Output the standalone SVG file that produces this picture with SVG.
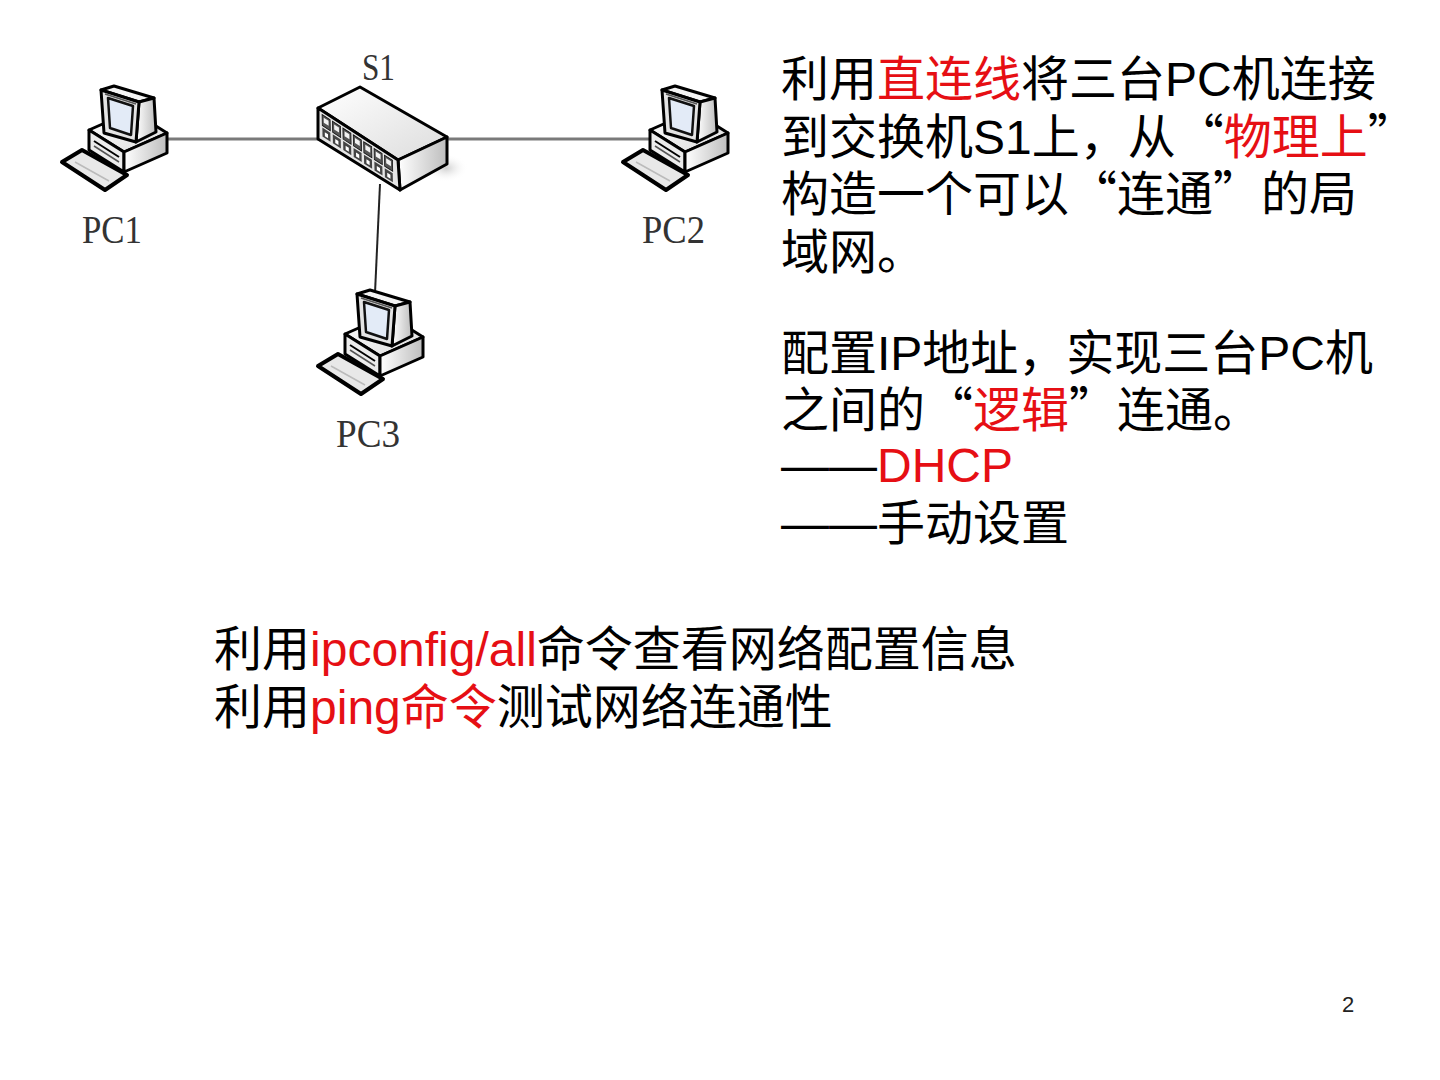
<svg xmlns="http://www.w3.org/2000/svg" xmlns:xlink="http://www.w3.org/1999/xlink" width="1440" height="1080" viewBox="0 0 1440 1080">
<style>
.t{font-family:"Liberation Sans","Noto Sans CJK SC",sans-serif;font-size:48px;fill:#000}
.r{fill:#e60f14}
.q{font-family:"Noto Sans CJK SC",sans-serif}
.lbl{font-family:"Liberation Serif","Times New Roman",serif;fill:#333}
.ol{stroke:#000;stroke-width:3;stroke-linejoin:round}
.wire{stroke:#7a7a7a;stroke-width:3;fill:none}
.wire2{stroke:#222;stroke-width:2;fill:none}
</style>
<defs>
<linearGradient id="side" x1="0" y1="0" x2="1" y2="0">
<stop offset="0" stop-color="#ffffff"/><stop offset="1" stop-color="#bdbdbd"/>
</linearGradient>
<linearGradient id="topg" x1="0" y1="0" x2="1" y2="1">
<stop offset="0" stop-color="#ffffff"/><stop offset="1" stop-color="#dcdcdc"/>
</linearGradient>
<radialGradient id="shadow"><stop offset="0" stop-color="#cfcfcf"/><stop offset="1" stop-color="#ffffff" stop-opacity="0"/></radialGradient>
<g id="pc">
<polygon class="ol" points="28,46 71,27 106,49 63,68" fill="url(#topg)"/>
<polygon class="ol" points="28,46 63,68 63,88 28,66" fill="#ececec"/>
<polygon class="ol" points="63,68 106,49 106,69 63,88" fill="url(#side)"/>
<line x1="33" y1="57" x2="58" y2="73" stroke="#000" stroke-width="2"/>
<line x1="33" y1="62" x2="58" y2="78" stroke="#555" stroke-width="1.5"/>
<polygon class="ol" points="40,6 53,2 93,14 78,18" fill="#f4f4f4"/>
<polygon class="ol" points="78,18 93,14 95,48 75,58" fill="url(#side)"/>
<polygon class="ol" points="40,6 78,18 75,58 43,49" fill="#e4e4e4"/>
<polygon points="47,14 72,22 70,51 49,44" fill="#e3ebf7" stroke="#111" stroke-width="2.5" stroke-linejoin="round"/>
<line x1="44" y1="10" x2="75" y2="20" stroke="#555" stroke-width="1.5"/>
<polygon points="1,78 21,66 66,91 44,106" fill="#e8e8e8" stroke="#000" stroke-width="4" stroke-linejoin="round"/>
<line x1="14" y1="78" x2="48" y2="97" stroke="#bbb" stroke-width="1.5"/>
</g>
</defs>

<g id="connectors">
<line class="wire" x1="168" y1="139" x2="319" y2="139"/>
<line class="wire" x1="446" y1="139" x2="652" y2="139"/>
<line class="wire2" x1="380" y1="184" x2="375" y2="293"/>
</g>

<g id="S1">
<ellipse cx="446" cy="168" rx="22" ry="14" fill="url(#shadow)"/>
<polygon class="ol" points="318,108 360,87 447,137 398,160" fill="url(#topg)"/>
<polygon class="ol" points="398,160 447,137 447,164 400,190" fill="url(#side)"/>
<polygon class="ol" points="318,108 398,160 400,190 318,139" fill="#e6e6e6"/>
<g transform="matrix(0.8,0.52,0.02,1,318,108)">
<rect x="5" y="4" width="10" height="11" fill="#555" stroke="#111" stroke-width="1"/><rect x="7" y="6" width="6" height="5" fill="#f2f2f2"/><rect x="5" y="17" width="10" height="9" fill="#444"/><rect x="8" y="20" width="4" height="4" fill="#fff"/>
<rect x="18" y="4" width="10" height="11" fill="#555" stroke="#111" stroke-width="1"/><rect x="20" y="6" width="6" height="5" fill="#f2f2f2"/><rect x="18" y="17" width="10" height="9" fill="#444"/><rect x="21" y="20" width="4" height="4" fill="#fff"/>
<rect x="31" y="4" width="10" height="11" fill="#555" stroke="#111" stroke-width="1"/><rect x="33" y="6" width="6" height="5" fill="#f2f2f2"/><rect x="31" y="17" width="10" height="9" fill="#444"/><rect x="34" y="20" width="4" height="4" fill="#fff"/>
<rect x="44" y="4" width="10" height="11" fill="#555" stroke="#111" stroke-width="1"/><rect x="46" y="6" width="6" height="5" fill="#f2f2f2"/><rect x="44" y="17" width="10" height="9" fill="#444"/><rect x="47" y="20" width="4" height="4" fill="#fff"/>
<rect x="57" y="4" width="10" height="11" fill="#555" stroke="#111" stroke-width="1"/><rect x="59" y="6" width="6" height="5" fill="#f2f2f2"/><rect x="57" y="17" width="10" height="9" fill="#444"/><rect x="60" y="20" width="4" height="4" fill="#fff"/>
<rect x="70" y="4" width="10" height="11" fill="#555" stroke="#111" stroke-width="1"/><rect x="72" y="6" width="6" height="5" fill="#f2f2f2"/><rect x="70" y="17" width="10" height="9" fill="#444"/><rect x="73" y="20" width="4" height="4" fill="#fff"/>
<rect x="83" y="4" width="10" height="11" fill="#555" stroke="#111" stroke-width="1"/><rect x="85" y="6" width="6" height="5" fill="#f2f2f2"/><rect x="83" y="17" width="10" height="9" fill="#444"/><rect x="86" y="20" width="4" height="4" fill="#fff"/>
</g>
<text class="lbl" x="362" y="80" font-size="38" textLength="33" lengthAdjust="spacingAndGlyphs">S1</text>
</g>

<g id="PC1">
<use xlink:href="#pc" x="61" y="84"/>
<text class="lbl" x="82" y="243" font-size="40" textLength="60" lengthAdjust="spacingAndGlyphs">PC1</text>
</g>
<g id="PC2">
<use xlink:href="#pc" x="622" y="84"/>
<text class="lbl" x="642" y="243" font-size="40" textLength="63" lengthAdjust="spacingAndGlyphs">PC2</text>
</g>
<g id="PC3">
<use xlink:href="#pc" x="317" y="288"/>
<text class="lbl" x="336" y="447" font-size="40" textLength="64" lengthAdjust="spacingAndGlyphs">PC3</text>
</g>

<g id="text-physical">
<text class="t" x="781" y="96">利用<tspan class="r">直连线</tspan>将三台PC机连接</text>
<text class="t" x="781" y="154">到交换机S1上，从<tspan class="q">“</tspan><tspan class="r">物理上</tspan><tspan class="q">”</tspan></text>
<text class="t" x="781" y="211">构造一个可以<tspan class="q">“</tspan>连通<tspan class="q">”</tspan>的局</text>
<text class="t" x="781" y="269">域网。</text>
</g>

<g id="text-logical">
<text class="t" x="781" y="370">配置IP地址，实现三台PC机</text>
<text class="t" x="781" y="427">之间的<tspan class="q">“</tspan><tspan class="r">逻辑</tspan><tspan class="q">”</tspan>连通。</text>
<text class="t" x="781" y="482">——<tspan class="r">DHCP</tspan></text>
<text class="t" x="781" y="540">——手动设置</text>
</g>

<g id="text-commands">
<text class="t" x="214" y="666">利用<tspan class="r">ipconfig/all</tspan>命令查看网络配置信息</text>
<text class="t" x="214" y="724">利用<tspan class="r">ping命令</tspan>测试网络连通性</text>
</g>

<text x="1342" y="1012" font-family="Liberation Sans, sans-serif" font-size="22" fill="#222">2</text>
</svg>
